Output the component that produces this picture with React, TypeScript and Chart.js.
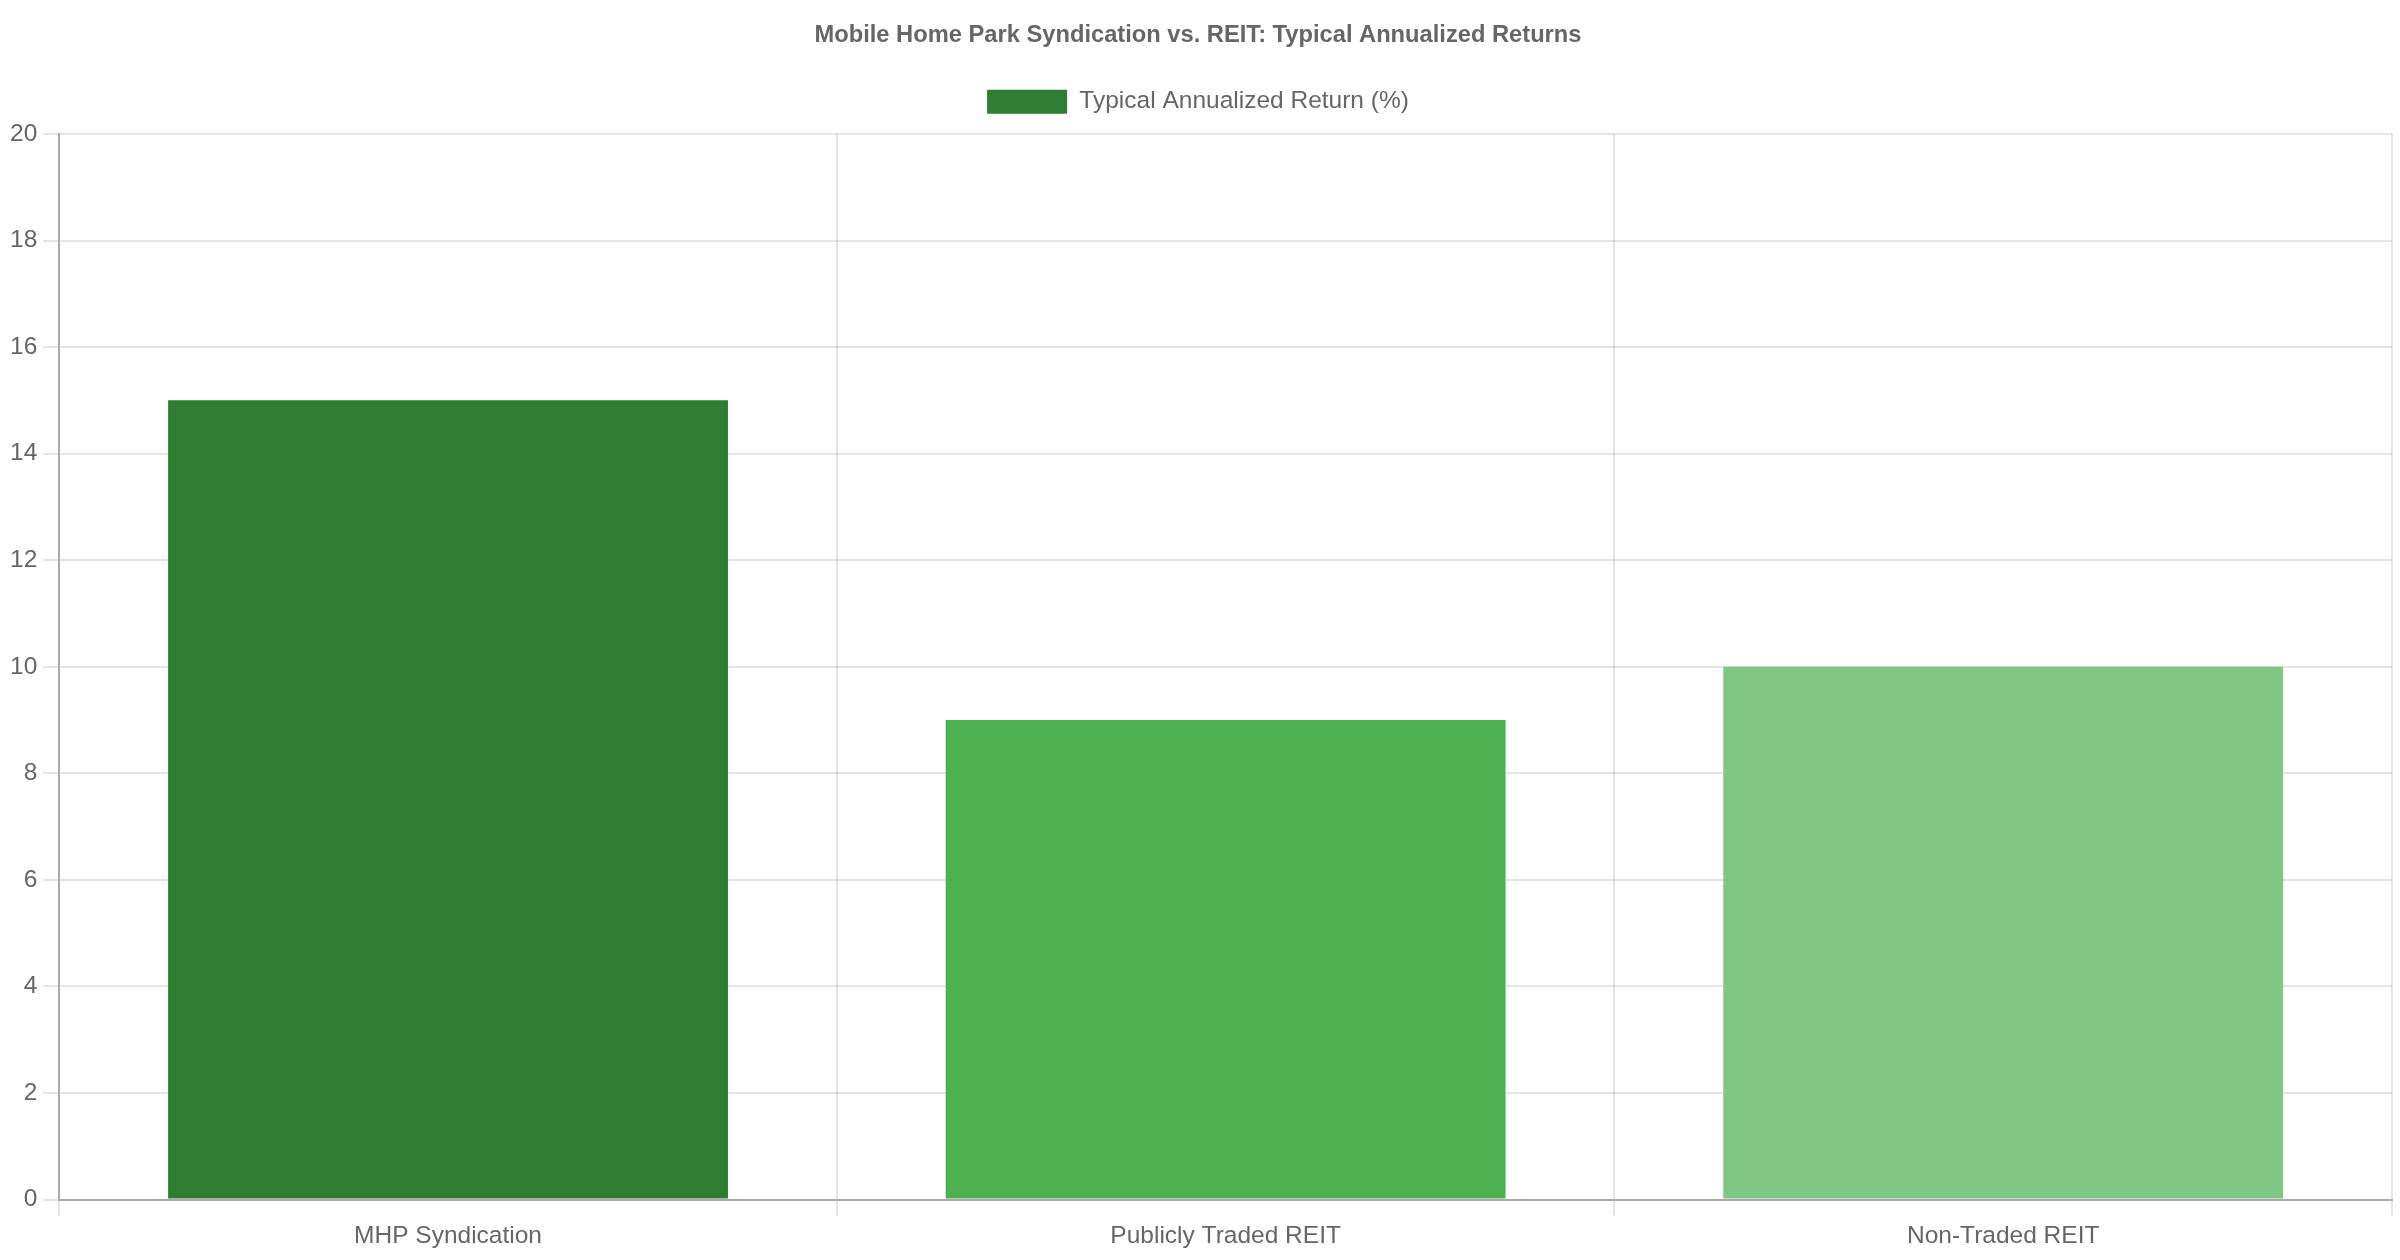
import React, { useEffect, useRef } from 'react';
import { Chart, registerables } from 'chart.js';

Chart.register(...registerables);

const categories = ['MHP Syndication', 'Publicly Traded REIT', 'Non-Traded REIT'];
const returnValues = [15, 9, 10];
const barColors = ['#2e7d32', '#4caf50', '#81c784'];
const seriesLabel = 'Typical Annualized Return (%)';
const chartTitle = 'Mobile Home Park Syndication vs. REIT: Typical Annualized Returns';

// adds some room under the legend
const legendMargin = {
  id: 'legendMargin',
  beforeInit(chart: any) {
    const fit = chart.legend.fit;
    chart.legend.fit = function () {
      fit.bind(chart.legend)();
      this.height += 10;
    };
  }
};

const App: React.FC = () => {
  const canvasRef = useRef<HTMLCanvasElement>(null);
  const chartRef = useRef<Chart | null>(null);

  useEffect(() => {
    document.body.style.margin = '0';
    if (!canvasRef.current) return;
    const ctx = canvasRef.current.getContext('2d');
    if (!ctx) return;

    Chart.defaults.font.family = "'Liberation Sans', Arial, sans-serif";
    Chart.defaults.font.size = 24.5;
    Chart.defaults.color = '#666';

    chartRef.current = new Chart(ctx, {
      type: 'bar',
      data: {
        labels: categories,
        datasets: [{
          label: seriesLabel,
          data: returnValues,
          backgroundColor: barColors,
          borderWidth: 0
        }]
      },
      options: {
        responsive: false,
        animation: false,
        layout: { padding: { left: 4, right: 8, top: 1, bottom: 3 } },
        plugins: {
          title: {
            display: true,
            text: chartTitle,
            font: { size: 23.7, weight: 'bold' },
            padding: 20
          },
          legend: {
            labels: { boxWidth: 80, boxHeight: 24, padding: 20 }
          },
          tooltip: { enabled: false }
        },
        scales: {
          x: {
            grid: { color: 'rgba(0,0,0,0.1)', lineWidth: 2, tickLength: 16 },
            border: { color: '#aaa', width: 2 },
            ticks: { padding: 6 }
          },
          y: {
            beginAtZero: true,
            max: 20,
            grid: { color: 'rgba(0,0,0,0.1)', lineWidth: 2, tickLength: 16 },
            border: { color: '#aaa', width: 2 },
            ticks: { stepSize: 2, padding: 6 }
          }
        }
      },
      plugins: [legendMargin]
    });

    return () => {
      if (chartRef.current) {
        chartRef.current.destroy();
        chartRef.current = null;
      }
    };
  }, []);

  return <canvas ref={canvasRef} width={2400} height={1260} />;
};

export default App;
